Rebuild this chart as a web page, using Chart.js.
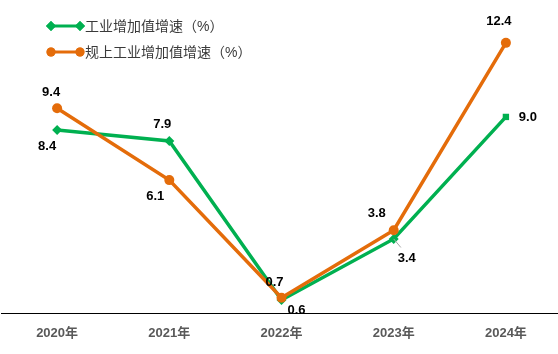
<!DOCTYPE html>
<html>
<head>
    <title>工业增加值增速</title>
    <script src="https://cdn.jsdelivr.net/npm/chart.js"></script>
    <style>
        body {
            margin: 0;
            background-color: #ffffff;
            overflow: hidden;
        }

        canvas {
            display: block;
        }
    </style>
</head>
<body>
    <!-- slightly wider than the window: the plot runs past the right edge like the original -->
    <canvas id="growthChart" width="562" height="354"></canvas>

    <script>
        const years = ['2020年', '2021年', '2022年', '2023年', '2024年'];
        const industryGrowth = [8.4, 7.9, 0.6, 3.4, 9.0];
        const aboveScaleGrowth = [9.4, 6.1, 0.7, 3.8, 12.4];

        const GREEN = '#00B050';
        const ORANGE = '#E46C0A';
        const FONT = '"Liberation Sans", "Noto Sans CJK SC", sans-serif';

        // label offsets (px) from each point
        const greenOffsets = [[-10, 16], [-7, -16], [15, 10], [13, 19], [22, 0]];
        const orangeOffsets = [[-6, -16], [-14, 16], [-7, -15], [-17, -17], [-7, -21]];

        // draws the value labels next to each point
        const valueLabels = {
            id: 'valueLabels',
            afterDatasetsDraw(chart) {
                const ctx = chart.ctx;
                ctx.save();
                ctx.font = 'bold 13px ' + FONT;
                ctx.fillStyle = '#000000';
                ctx.textAlign = 'center';
                ctx.textBaseline = 'middle';
                chart.data.datasets.forEach((ds, i) => {
                    const meta = chart.getDatasetMeta(i);
                    meta.data.forEach((pt, j) => {
                        const off = ds.labelOffsets[j];
                        if (ds.leader && ds.leader[j]) {
                            ctx.strokeStyle = '#A6A6A6';
                            ctx.lineWidth = 1;
                            ctx.beginPath();
                            ctx.moveTo(pt.x, pt.y);
                            ctx.lineTo(pt.x + off[0] * 0.55, pt.y + off[1] * 0.45);
                            ctx.stroke();
                        }
                        ctx.fillText(ds.data[j].toFixed(1), pt.x + off[0], pt.y + off[1]);
                    });
                });
                ctx.restore();
            }
        };

        // legend in the top left corner, line with a marker at each end
        const cornerLegend = {
            id: 'cornerLegend',
            afterDraw(chart) {
                const ctx = chart.ctx;
                const items = [
                    { ds: chart.data.datasets[1], y: 26, style: 'rectRot' },
                    { ds: chart.data.datasets[0], y: 52, style: 'circle' }
                ];
                ctx.save();
                items.forEach(item => {
                    const c = item.ds.borderColor;
                    ctx.strokeStyle = c;
                    ctx.fillStyle = c;
                    ctx.lineWidth = 3;
                    ctx.beginPath();
                    ctx.moveTo(51, item.y);
                    ctx.lineTo(80, item.y);
                    ctx.stroke();
                    [51, 80].forEach(x => {
                        Chart.helpers.drawPoint(ctx, {
                            pointStyle: item.style,
                            radius: item.style === 'circle' ? 4.5 : 5,
                            borderWidth: 0,
                            rotation: 0
                        }, x, item.y);
                        ctx.fill();
                    });
                    ctx.font = '14px ' + FONT;
                    ctx.fillStyle = '#3a3a3a';
                    ctx.textAlign = 'left';
                    ctx.textBaseline = 'middle';
                    ctx.fillText(item.ds.label, 85, item.y + 1);
                });
                ctx.restore();
            }
        };

        new Chart(document.getElementById('growthChart'), {
            type: 'line',
            data: {
                labels: years,
                datasets: [{
                    label: '规上工业增加值增速（%）',
                    data: aboveScaleGrowth,
                    borderColor: ORANGE,
                    backgroundColor: ORANGE,
                    borderWidth: 3.5,
                    pointStyle: 'circle',
                    pointRadius: 5,
                    pointBorderWidth: 0,
                    tension: 0,
                    order: 1,
                    labelOffsets: orangeOffsets
                }, {
                    label: '工业增加值增速（%）',
                    data: industryGrowth,
                    borderColor: GREEN,
                    backgroundColor: GREEN,
                    borderWidth: 3.5,
                    pointStyle: ['rectRot', 'rectRot', 'rectRot', 'rectRot', 'rect'],
                    pointRadius: [5, 5, 5, 5, 4.5],
                    pointBorderWidth: 0,
                    tension: 0,
                    order: 2,
                    labelOffsets: greenOffsets,
                    leader: [false, false, false, true, false]
                }]
            },
            options: {
                responsive: false,
                animation: false,
                layout: {
                    autoPadding: false,
                    padding: { top: 8, bottom: 14, left: 1, right: 0 }
                },
                plugins: {
                    legend: { display: false },
                    tooltip: { enabled: false }
                },
                scales: {
                    x: {
                        offset: true,
                        grid: { display: false, drawTicks: false },
                        border: { display: true, color: '#000000', width: 1 },
                        ticks: {
                            padding: 13,
                            color: '#595959',
                            font: { family: FONT, size: 13, weight: 'bold' }
                        },
                        afterFit(scale) {
                            scale.height = 27;
                        }
                    },
                    y: {
                        display: false,
                        min: 0,
                        max: 14
                    }
                }
            },
            plugins: [valueLabels, cornerLegend]
        });
    </script>
</body>
</html>
